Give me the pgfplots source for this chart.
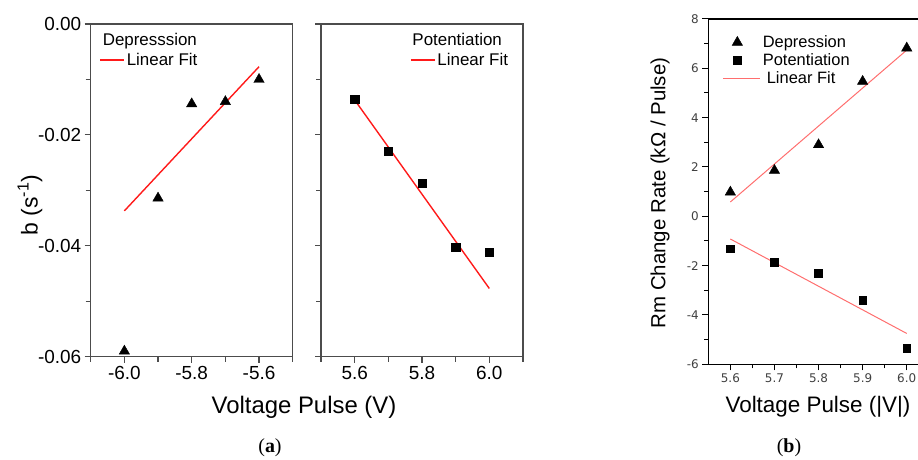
\documentclass[border=0pt]{standalone}
\usepackage{fontspec}
\setmainfont{Liberation Sans}
\newfontfamily\tickfont{DejaVu Sans}
\newfontfamily\capfont{Liberation Serif}
\usepackage{pgfplots}
\pgfplotsset{compat=1.18}
\definecolor{fitred}{HTML}{FF1A1A}
\definecolor{fitpink}{HTML}{FF6E6E}

\pgfplotsset{
  panela/.style={
    scale only axis, anchor=south west,
    width=202bp, height=332.7bp,
    ymin=-0.06, ymax=0,
    ytick={-0.06,-0.04,-0.02,0}, minor ytick={-0.05,-0.03,-0.01},
    scaled y ticks=false, scaled x ticks=false,
    axis line style={black!70, line width=1.3bp},
    tick style={black!70, line width=1.1bp},
    tick align=outside, major tick length=6bp, minor tick length=5bp,
    xtick pos=bottom, ytick pos=left,
    tick label style={font=\fontsize{19}{22}\selectfont},
    /pgf/number format/assume math mode=true,
    x tick label style={/pgf/number format/fixed, /pgf/number format/fixed zerofill,
      /pgf/number format/precision=1},
    y tick label style={/pgf/number format/fixed, /pgf/number format/fixed zerofill,
      /pgf/number format/precision=2},
    legend style={draw=none, fill=none, font=\fontsize{17}{20}\selectfont,
      inner sep=0pt, row sep=2bp},
    legend cell align=left,
    legend image code/.code={\draw[#1] (0bp,0bp) -- (24bp,0bp);},
  },
}

\begin{document}
\begin{tikzpicture}
\useasboundingbox (0bp,0bp) rectangle (918bp,460bp);

% (a) left: depression
\begin{axis}[panela, at={(90.7bp,103.3bp)},
  xmin=-6.1, xmax=-5.5,
  xtick={-6.0,-5.8,-5.6}, minor xtick={-6.1,-5.9,-5.7,-5.5},
  legend style={at={(axis description cs:0.042,0.978)}, anchor=north west}]
\addlegendimage{empty legend}
\addlegendentry{\hspace*{-24bp}Depresssion}
\addplot[only marks, mark=triangle*, mark size=6bp, black, forget plot] coordinates {
  (-6.0,-0.0590) (-5.9,-0.0314) (-5.8,-0.0144) (-5.7,-0.0140) (-5.6,-0.0100)
};
\addplot[fitred, line width=1.4bp] coordinates {(-6.0,-0.0337) (-5.6,-0.0077)};
\addlegendentry{Linear Fit}
\end{axis}

% (a) right: potentiation
\begin{axis}[panela, at={(321bp,103.3bp)},
  xmin=5.5, xmax=6.1,
  xtick={5.6,5.8,6.0}, minor xtick={5.5,5.7,5.9,6.1},
  yticklabels={},
  legend style={at={(axis description cs:0.44,0.978)}, anchor=north west}]
\addlegendimage{empty legend}
\addlegendentry{\hspace*{-25bp}Potentiation}
\addplot[only marks, mark=square*, mark size=4.1bp, black, forget plot] coordinates {
  (5.6,-0.0136) (5.7,-0.0230) (5.8,-0.0287) (5.9,-0.0402) (6.0,-0.0411)
};
\addplot[fitred, line width=1.4bp] coordinates {(5.6,-0.0137) (6.0,-0.0477)};
\addlegendentry{Linear Fit}
\end{axis}

% (b)
\begin{axis}[scale only axis, anchor=south west, at={(708.3bp,95.7bp)},
  width=220.5bp, height=345.3bp,
  xmin=5.55, xmax=6.05, ymin=-6, ymax=8,
  xtick={5.6,5.7,5.8,5.9,6.0}, minor xtick={5.65,5.75,5.85,5.95},
  ytick={-6,-4,-2,0,2,4,6,8}, minor ytick={-5,-3,-1,1,3,5,7},
  axis line style={black, line width=1.1bp},
  tick style={black, line width=1bp},
  tick align=outside, major tick length=6bp, minor tick length=4bp,
  xtick pos=bottom, ytick pos=left,
  tick label style={font=\tickfont\fontsize{12}{14}\selectfont, text=black!75},
  /pgf/number format/assume math mode=true,
  x tick label style={/pgf/number format/fixed, /pgf/number format/fixed zerofill,
    /pgf/number format/precision=1},
  legend style={draw=none, fill=none, font=\fontsize{16.5}{19}\selectfont,
    inner sep=0pt, row sep=0.5bp, at={(axis description cs:0.065,0.958)}, anchor=north west},
  legend cell align=left,
  legend image code/.code={\draw[mark repeat=2, mark phase=2, #1]
    plot coordinates {(0bp,0bp) (14bp,0bp) (37bp,0bp)};}]
\addplot[only marks, mark=triangle*, mark size=6bp, black] coordinates {
  (5.6,0.98) (5.7,1.86) (5.8,2.90) (5.9,5.47) (6.0,6.82)
};
\addlegendentry{Depression}
\addplot[only marks, mark=square*, mark size=3.9bp, black] coordinates {
  (5.6,-1.31) (5.7,-1.87) (5.8,-2.31) (5.9,-3.39) (6.0,-5.35)
};
\addlegendentry{Potentiation}
\addplot[fitpink, line width=1bp] coordinates {(5.6,0.58) (6.0,6.74)};
\addlegendentry{\hspace*{4bp}Linear Fit}
\addplot[fitpink, line width=1bp, forget plot] coordinates {(5.6,-0.92) (6.0,-4.75)};
\end{axis}

% axis titles and panel letters
\node[rotate=90, font=\fontsize{23}{26}\selectfont] at (30bp,255bp) {b (s\textsuperscript{-1})};
\node[font=\fontsize{24}{28}\selectfont] at (304bp,53bp) {Voltage Pulse (V)};
\node[font=\capfont\fontsize{20}{24}\selectfont] at (270bp,12bp) {({\bfseries a})};
\node[rotate=90, font=\fontsize{20.5}{24}\selectfont] at (660bp,267bp) {Rm Change Rate (kΩ / Pulse)};
\node[font=\fontsize{22.5}{26}\selectfont] at (818bp,53bp) {Voltage Pulse (|V|)};
\node[font=\capfont\fontsize{20}{24}\selectfont] at (789bp,12bp) {({\bfseries b})};
\end{tikzpicture}
\end{document}
